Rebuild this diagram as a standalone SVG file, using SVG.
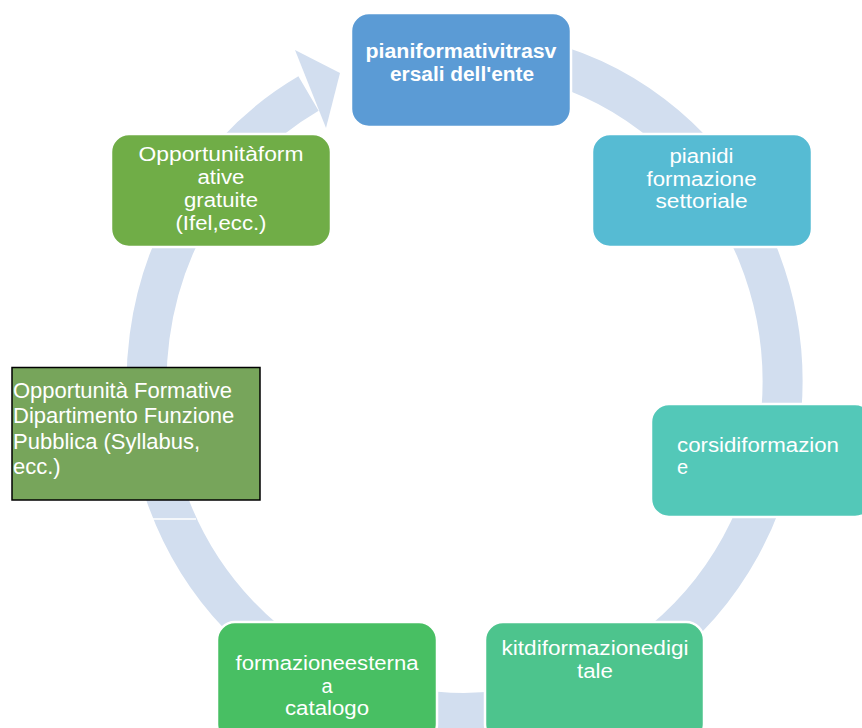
<svg xmlns="http://www.w3.org/2000/svg" width="862" height="728" viewBox="0 0 862 728">
<style>
.node{stroke:#fff;stroke-width:2.5}
.t{font-family:"Liberation Sans",Arial,sans-serif;font-size:20px;fill:#fff}
.l{font-size:22px}
.c{text-anchor:middle}
.b{font-weight:bold}
.ring{fill:none;stroke:#D2DEEF;stroke-width:40}
</style>
<rect width="862" height="728" fill="#fff"/>
<g id="connectors">
<path class="ring" d="M543.3,61.3 A318,331 0 1 1 308.5,93.6"/>
<polygon points="295,50 340,73 326,128" fill="#D2DEEF"/>
<line x1="145" y1="519" x2="196" y2="519" stroke="#fff" stroke-width="1.5"/>
</g>
<g id="node-top">
<rect class="node" x="351" y="13" width="220" height="114" rx="18" fill="#5B9BD5"/>
<text class="t c b" x="461" y="58" textLength="191" lengthAdjust="spacingAndGlyphs">pianiformativitrasv</text>
<text class="t c b" x="462" y="81" textLength="144" lengthAdjust="spacingAndGlyphs">ersali dell'ente</text>
</g>
<g id="node-settoriale">
<rect class="node" x="592" y="134" width="220" height="113" rx="18" fill="#56BBD3"/>
<text class="t c" x="701.5" y="163" textLength="64" lengthAdjust="spacingAndGlyphs">pianidi</text>
<text class="t c" x="701.5" y="185.5" textLength="110" lengthAdjust="spacingAndGlyphs">formazione</text>
<text class="t c" x="701.5" y="208" textLength="92" lengthAdjust="spacingAndGlyphs">settoriale</text>
</g>
<g id="node-corsi">
<rect class="node" x="651" y="404" width="222" height="113" rx="18" fill="#53C8B8"/>
<text class="t" x="677" y="452" textLength="162" lengthAdjust="spacingAndGlyphs">corsidiformazion</text>
<text class="t" x="677" y="473.5">e</text>
</g>
<g id="node-kit">
<rect class="node" x="485" y="622" width="219" height="120" rx="18" fill="#4DC48D"/>
<text class="t c" x="595" y="655" textLength="187" lengthAdjust="spacingAndGlyphs">kitdiformazionedigi</text>
<text class="t c" x="595" y="678" textLength="36" lengthAdjust="spacingAndGlyphs">tale</text>
</g>
<g id="node-esterna">
<rect class="node" x="217" y="622" width="220" height="120" rx="18" fill="#48BF63"/>
<text class="t c" x="327" y="670" textLength="183" lengthAdjust="spacingAndGlyphs">formazioneesterna</text>
<text class="t c" x="327" y="692.5">a</text>
<text class="t c" x="327" y="715" textLength="84" lengthAdjust="spacingAndGlyphs">catalogo</text>
</g>
<g id="node-gratuite">
<rect class="node" x="111" y="134" width="220" height="113" rx="18" fill="#70AD47"/>
<text class="t c" x="221" y="160.5" textLength="165" lengthAdjust="spacingAndGlyphs">Opportunitàform</text>
<text class="t c" x="221" y="183.5" textLength="47" lengthAdjust="spacingAndGlyphs">ative</text>
<text class="t c" x="221" y="206.5" textLength="74" lengthAdjust="spacingAndGlyphs">gratuite</text>
<text class="t c" x="221" y="229.5" textLength="91" lengthAdjust="spacingAndGlyphs">(Ifel,ecc.)</text>
</g>
<g id="node-dfp">
<rect x="12" y="367.5" width="248" height="132.5" fill="#77A55B" stroke="#000" stroke-width="1.5"/>
<text class="t l" x="13" y="397.5">Opportunità Formative</text>
<text class="t l" x="13" y="423">Dipartimento Funzione</text>
<text class="t l" x="13" y="448.5">Pubblica (Syllabus,</text>
<text class="t l" x="13" y="474">ecc.)</text>
</g>
</svg>
